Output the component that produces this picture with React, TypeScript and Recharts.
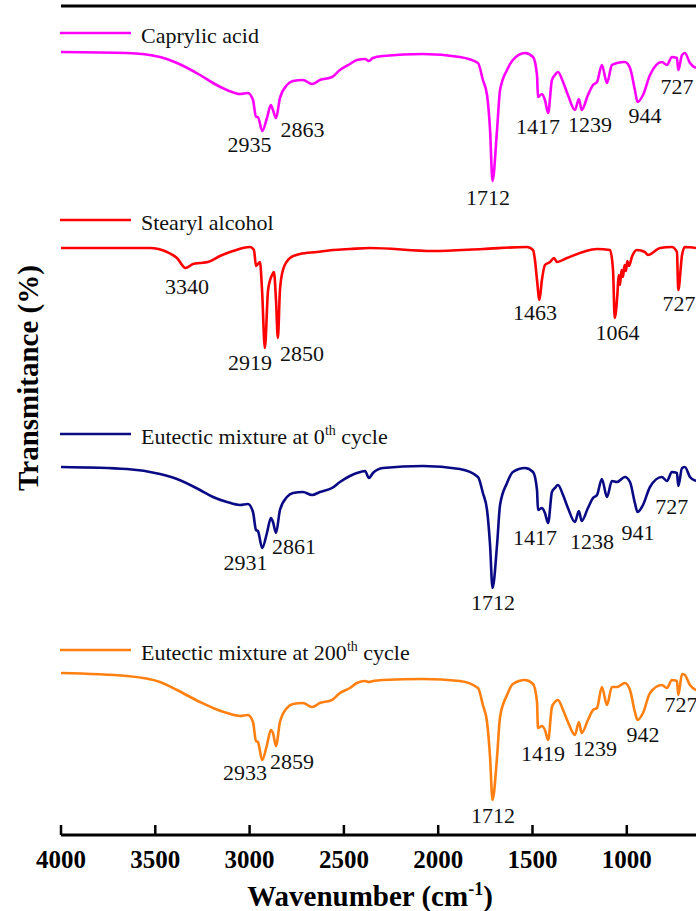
import React from "react";
import {
	LineChart,
	Line,
	XAxis,
	YAxis,
	ReferenceDot,
	ReferenceLine,
	Customized,
} from "recharts";

const FONT = "'Liberation Serif', 'Times New Roman', Times, serif";

// wavenumbers (cm-1) for caprylic acid and the two eutectic spectra
const acidWave = [
	4000, 3650, 3475, 3385, 3263, 3194, 3120, 3051, 3009, 2982, 2966, 2956, 2933,
	2908, 2887, 2876, 2860, 2839, 2802, 2770, 2717, 2669, 2627, 2563, 2521, 2468,
	2431, 2388, 2367, 2346, 2293, 2081, 1885, 1789, 1763, 1741, 1725, 1712, 1688,
	1672, 1635, 1604, 1540, 1497, 1476, 1471, 1450, 1434, 1417, 1397, 1381, 1365,
	1338, 1312, 1275, 1254, 1239, 1206, 1179, 1158, 1132, 1105, 1079, 1052, 1010,
	983, 957, 943, 914, 877, 814, 787, 761, 734, 727, 707, 692, 665, 633,
];

const caprylicT = [
	78.3, 78.2, 77.8, 77.2, 76.0, 75.2, 74.5, 74.1, 74.2, 73.5, 71.8, 71.8, 70.4,
	71.7, 73.0, 72.5, 71.7, 73.7, 75.0, 75.4, 75.5, 75.1, 75.5, 75.8, 76.5, 77.1,
	77.5, 77.6, 77.4, 77.7, 77.9, 78.1, 77.8, 77.2, 75.5, 74.0, 70.5, 65.4, 70.5,
	74.5, 76.5, 77.5, 78.2, 77.8, 76.0, 73.8, 74.1, 73.5, 72.2, 75.5, 76.0, 76.3,
	75.3, 74.0, 72.5, 73.6, 72.5, 74.0, 75.0, 75.3, 77.0, 75.2, 77.0, 77.2, 77.3,
	76.7, 74.5, 73.3, 74.0, 76.0, 77.3, 77.0, 77.8, 77.7, 76.5, 78.0, 78.2, 77.2,
	76.7,
];

const eutectic0T = [
	36.8, 36.6, 36.1, 35.6, 34.5, 33.8, 33.3, 33.0, 33.1, 32.3, 30.5, 30.4, 28.7,
	30.2, 31.7, 31.3, 30.2, 32.5, 33.8, 34.2, 34.3, 34.0, 34.3, 34.7, 35.3, 35.9,
	36.2, 36.4, 35.7, 36.2, 36.7, 36.9, 36.6, 35.8, 34.2, 32.5, 29.0, 24.7, 29.0,
	33.0, 35.2, 36.3, 36.7, 36.3, 34.5, 32.5, 32.7, 32.2, 31.2, 34.3, 34.7, 35.0,
	34.0, 32.7, 31.3, 32.4, 31.4, 32.7, 33.7, 34.0, 35.6, 33.8, 35.4, 35.3, 35.8,
	35.3, 33.2, 32.3, 33.0, 34.8, 35.8, 35.4, 36.3, 36.2, 34.9, 36.7, 36.8, 35.8,
	35.4,
];

const eutectic200T = [
	16.2, 15.9, 15.3, 14.5, 13.3, 12.7, 12.2, 11.9, 12.0, 11.3, 9.4, 9.3, 7.5,
	9.0, 10.5, 10.2, 8.9, 11.3, 12.7, 13.1, 13.2, 12.8, 13.2, 13.5, 14.2, 14.7,
	15.2, 15.4, 15.3, 15.4, 15.5, 15.6, 15.4, 14.7, 13.0, 11.3, 7.8, 3.5, 7.8,
	11.8, 14.0, 15.1, 15.5, 15.1, 13.3, 10.7, 10.9, 10.5, 9.5, 12.8, 13.3, 13.5,
	12.5, 11.3, 10.0, 11.3, 10.2, 11.5, 12.5, 12.7, 14.8, 13.0, 14.8, 14.8, 15.2,
	14.5, 12.3, 11.5, 12.2, 14.2, 15.0, 14.7, 15.5, 15.4, 14.0, 16.1, 16.0, 15.0,
	14.5,
];

const stearylWave = [
	4000, 3528, 3438, 3385, 3340, 3300, 3263, 3221, 3157, 3088, 2998, 2977, 2966,
	2956, 2945, 2934, 2919, 2902, 2881, 2871, 2860, 2850, 2839, 2823, 2786, 2733,
	2643, 2558, 2468, 2362, 2028, 1763, 1529, 1497, 1487, 1476, 1463, 1450, 1434,
	1407, 1386, 1370, 1317, 1232, 1158, 1089, 1073, 1064, 1050, 1043, 1036, 1028,
	1020, 1012, 1005, 997, 988, 973, 946, 904, 888, 824, 761, 734, 727, 707, 692,
	633,
];

const stearylT = [
	58.7, 58.7, 58.3, 57.7, 56.7, 57.1, 57.2, 57.3, 57.9, 58.4, 58.8, 58.5, 56.9,
	57.1, 57.3, 54.5, 48.7, 54.5, 56.0, 56.3, 53.5, 49.7, 54.5, 56.5, 57.7, 58.1,
	58.3, 58.5, 58.6, 58.7, 58.4, 58.6, 58.8, 58.5, 57.5, 55.5, 53.5, 55.5, 57.0,
	57.3, 57.7, 57.3, 57.7, 58.3, 58.6, 58.5, 56.5, 51.7, 54.0, 56.0, 55.0, 56.5,
	55.8, 57.0, 56.4, 57.4, 56.9, 57.8, 58.5, 58.3, 58.0, 58.7, 58.8, 58.3, 54.5,
	58.0, 58.8, 58.7,
];

// peak annotations: [label, wavenumber, level]
const caprylicPeaks: [string, number, number][] = [
	["2935", 3000, 69.1],
	["2863", 2720, 70.6],
	["1712", 1736, 63.8],
	["1417", 1471, 70.9],
	["1239", 1195, 71.1],
	["944", 904, 72.0],
	["727", 734, 74.9],
];
const stearylPeaks: [string, number, number][] = [
	["3340", 3332, 54.9],
	["2919", 2998, 47.3],
	["2850", 2722, 48.2],
	["1463", 1487, 52.3],
	["1064", 1049, 50.3],
	["727", 723, 53.2],
];
const eutectic0Peaks: [string, number, number][] = [
	["2931", 3022, 27.3],
	["2861", 2765, 28.9],
	["1712", 1710, 23.3],
	["1417", 1487, 29.8],
	["1238", 1185, 29.4],
	["941", 941, 30.3],
	["727", 761, 32.9],
];
const eutectic200Peaks: [string, number, number][] = [
	["2933", 3024, 6.3],
	["2859", 2775, 7.4],
	["1712", 1710, 2.0],
	["1419", 1444, 8.2],
	["1239", 1169, 8.7],
	["942", 914, 10.1],
	["727", 713, 13.1],
];

const xTicks = [4000, 3500, 3000, 2500, 2000, 1500, 1000];
const yTop = 82.9;

const toPoints = (w: number[], t: number[]) =>
	w.map((x, i) => ({ w: x, t: t[i] }));

const series = [
	{ name: "Caprylic acid", sup: "", color: "#ff00ff", data: toPoints(acidWave, caprylicT), peaks: caprylicPeaks, legendY: 33 },
	{ name: "Stearyl alcohol", sup: "", color: "#ff0000", data: toPoints(stearylWave, stearylT), peaks: stearylPeaks, legendY: 220 },
	{ name: "Eutectic mixture at 0", sup: "th", color: "#0a0a85", data: toPoints(acidWave, eutectic0T), peaks: eutectic0Peaks, legendY: 434 },
	{ name: "Eutectic mixture at 200", sup: "th", color: "#ff8010", data: toPoints(acidWave, eutectic200T), peaks: eutectic200Peaks, legendY: 650 },
];

const XTick = ({ x, y, payload }: any) => (
	<g>
		<line x1={x} y1={y} x2={x} y2={y - 10} stroke='#000' strokeWidth={2.5} />
		<text
			x={x}
			y={y + 33}
			textAnchor='middle'
			fontFamily={FONT}
			fontWeight='bold'
			fontSize={25}
			fill='#000'>
			{payload.value}
		</text>
	</g>
);

const Overlay = () => (
	<g style={{ fontFamily: FONT }} fill='#111'>
		{series.map((s) => (
			<g key={s.name}>
				<line x1={60} x2={131} y1={s.legendY} y2={s.legendY} stroke={s.color} strokeWidth={2.6} />
				<text x={141} y={s.legendY + 10} fontSize={22}>
					{s.name}
					{s.sup && (
						<>
							<tspan fontSize={14} dy={-9}>{s.sup}</tspan>
							<tspan fontSize={22} dy={9}> cycle</tspan>
						</>
					)}
				</text>
			</g>
		))}
		<text x={370} y={906} textAnchor='middle' fontSize={29} fontWeight='bold' fill='#000'>
			Wavenumber (cm
			<tspan fontSize={18} dy={-11}>-1</tspan>
			<tspan dy={11}>)</tspan>
		</text>
		<text
			x={38}
			y={378}
			transform='rotate(-90, 38, 378)'
			textAnchor='middle'
			fontSize={29}
			fontWeight='bold'
			fill='#000'>
			Transmitance (%)
		</text>
	</g>
);

export default function App() {
	return (
		<div
			style={{
				position: "absolute",
				left: 0,
				top: 0,
				width: 696,
				height: 911,
				overflow: "hidden",
				background: "#fff",
			}}>
			<LineChart
				width={696}
				height={911}
				margin={{ top: 6, right: 0, bottom: 0, left: 61 }}>
				<XAxis
					type='number'
					dataKey='w'
					domain={[633, 4000]}
					reversed
					allowDataOverflow
					ticks={xTicks}
					interval={0}
					height={76}
					tickSize={0}
					tickMargin={0}
					tick={<XTick />}
					axisLine={{ stroke: "#000", strokeWidth: 3 }}
				/>
				<YAxis
					type='number'
					domain={[0, yTop]}
					allowDataOverflow
					width={0}
					tick={false}
					tickLine={false}
					axisLine={{ stroke: "#000", strokeWidth: 3 }}
				/>
				<ReferenceLine y={yTop} stroke='#000' strokeWidth={3} ifOverflow='visible' />
				{series.map((s) => (
					<Line
						key={s.name}
						data={s.data}
						dataKey='t'
						type='monotoneX'
						stroke={s.color}
						strokeWidth={2.6}
						dot={false}
						isAnimationActive={false}
					/>
				))}
				{series.flatMap((s) =>
					s.peaks.map(([label, w, t]) => (
						<ReferenceDot
							key={s.name + label}
							x={w}
							y={t}
							r={0}
							fill='none'
							stroke='none'
							ifOverflow='visible'
							label={{
								value: label,
								position: "center",
								fontSize: 22,
								fontFamily: FONT,
								fill: "#111",
							}}
						/>
					))
				)}
				<Customized component={Overlay} />
			</LineChart>
		</div>
	);
}
